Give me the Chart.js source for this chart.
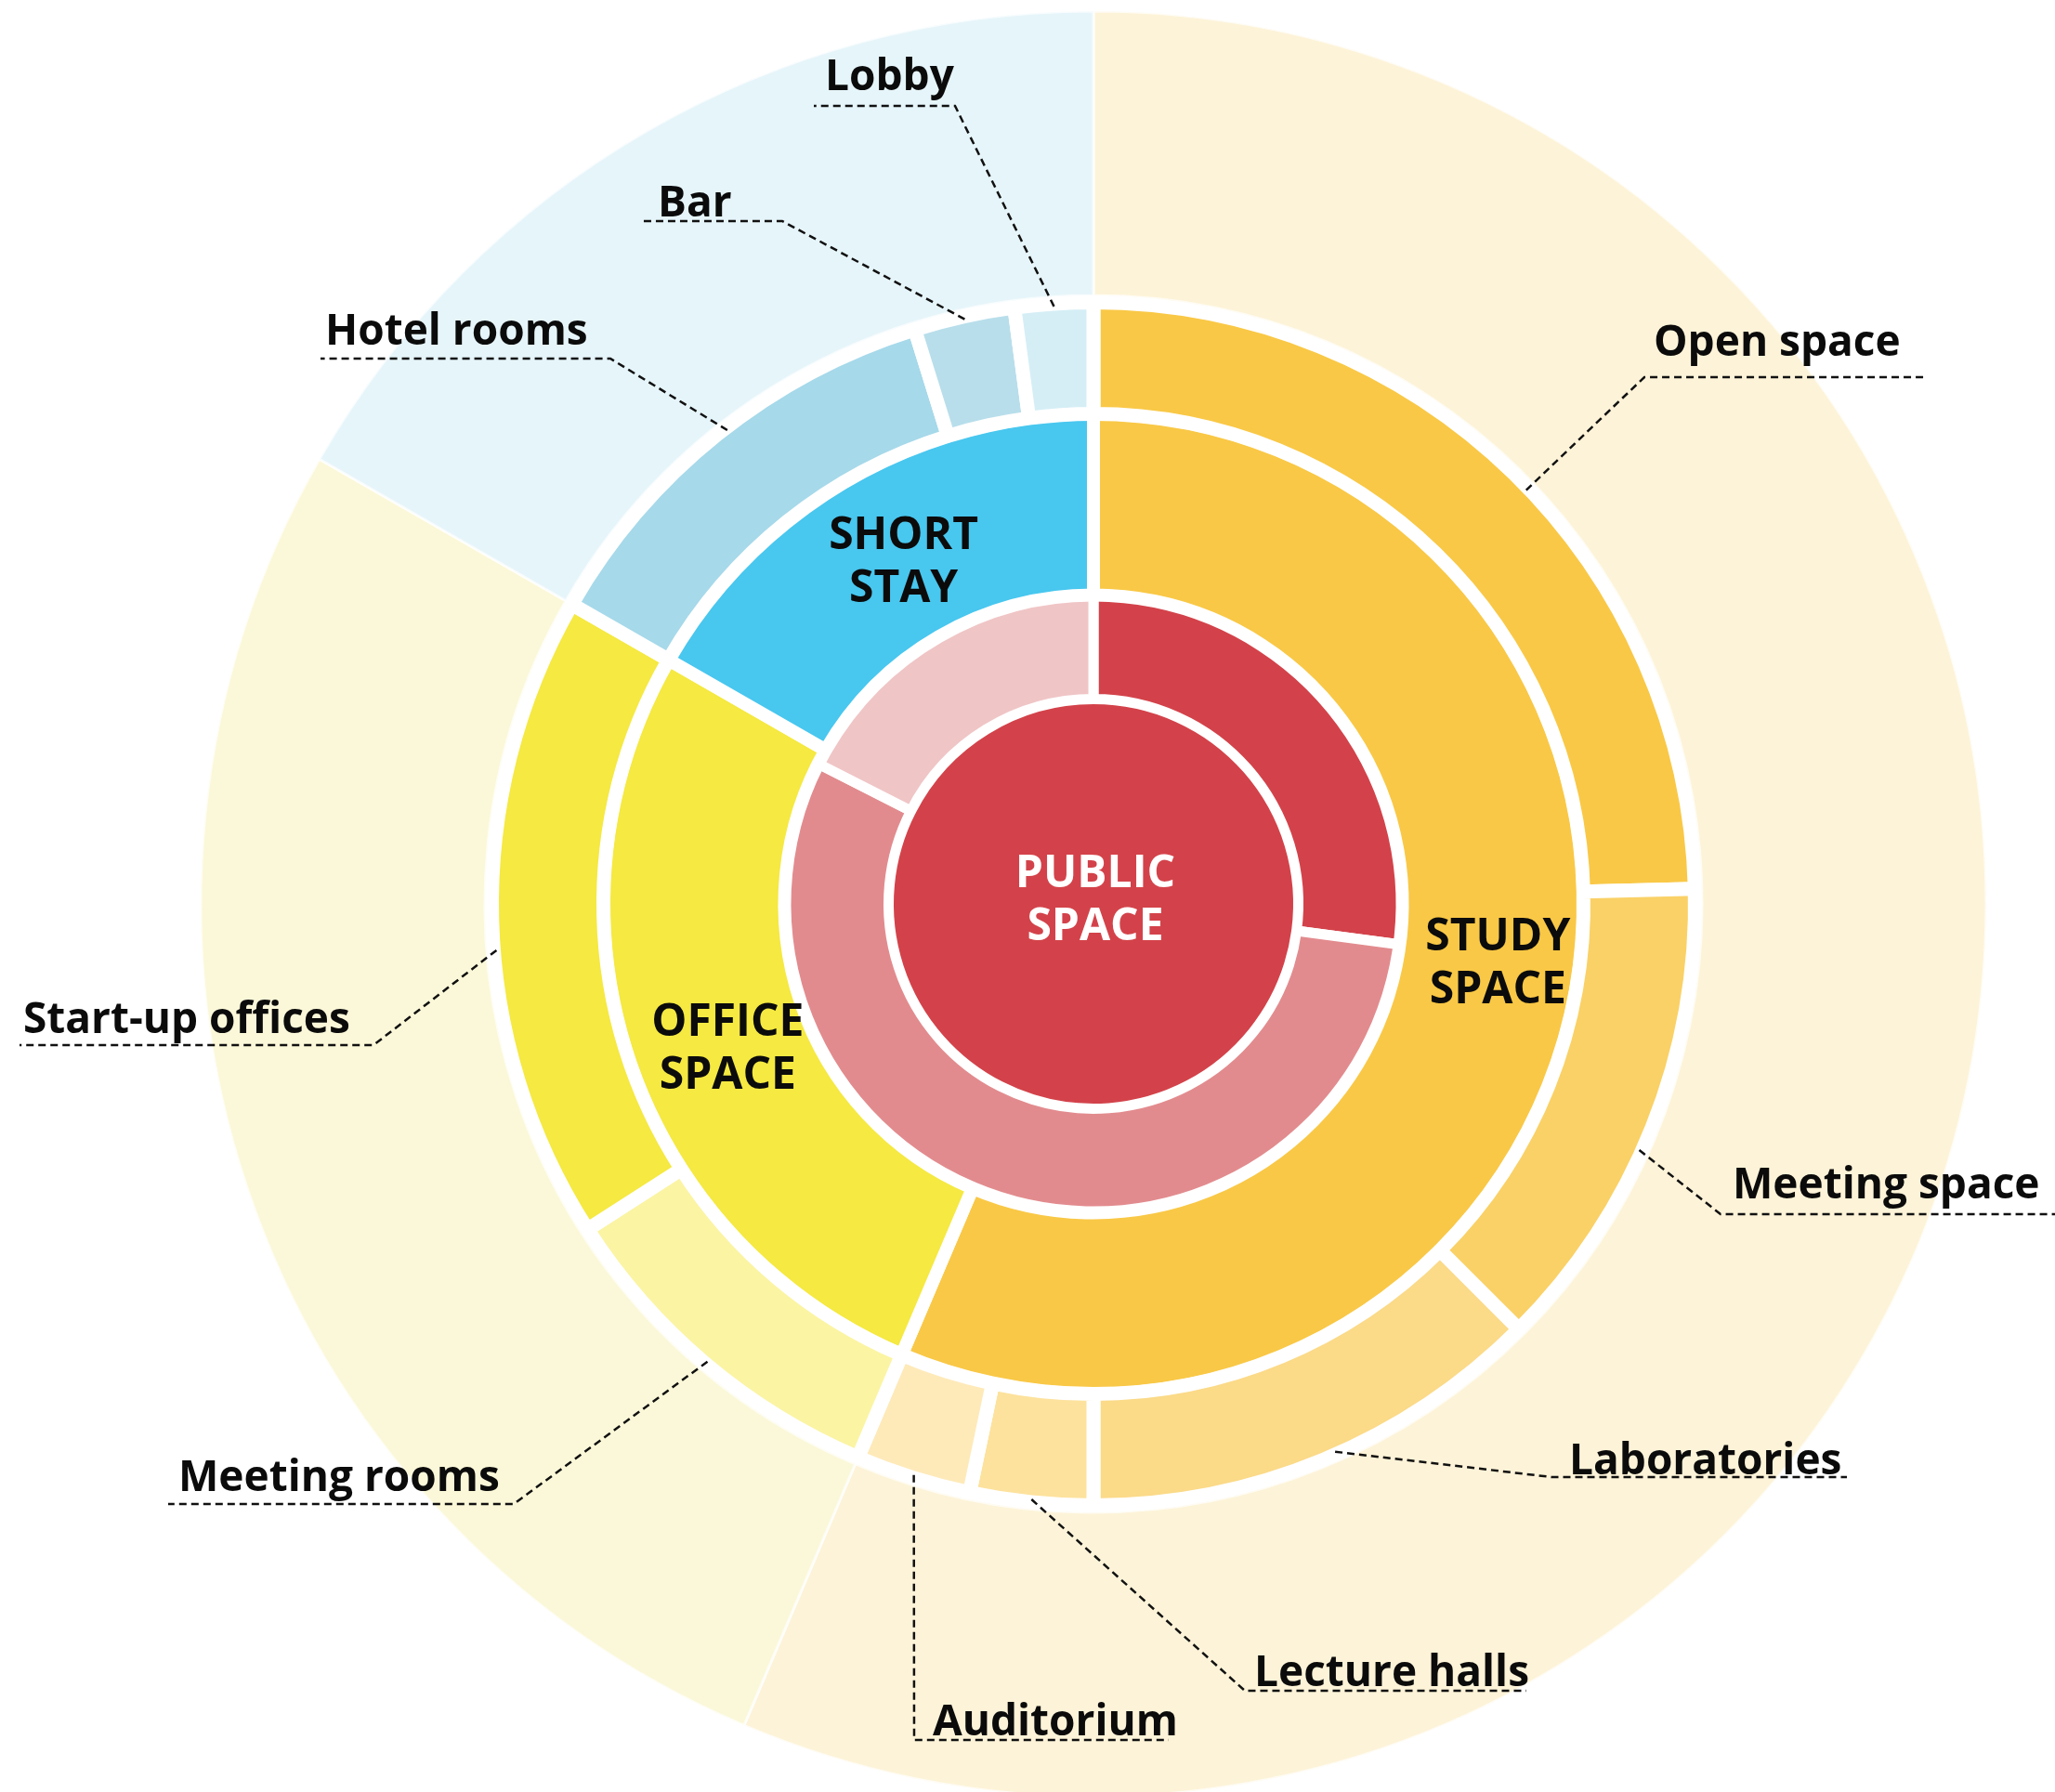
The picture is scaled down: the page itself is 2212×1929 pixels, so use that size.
<!DOCTYPE html>
<html>
<head>
<meta charset="utf-8">
<title>Space programme</title>
<script src="https://cdn.jsdelivr.net/npm/chart.js@4.4.1/dist/chart.umd.min.js"></script>
<style>
  html, body { margin: 0; padding: 0; background: #fff; overflow: hidden; }
  canvas { display: block; }
</style>
</head>
<body>
<canvas id="spaceChart" width="2212" height="1929"></canvas>
<script>
// main programme, share of floor area (%), clockwise from the top
const categories = ['Study space', 'Office space', 'Short stay'];
const categoryShares = [56.4, 26.9, 16.7];

// sub programme, clockwise from the top
const subLabels = ['Open space', 'Meeting space', 'Laboratories', 'Lecture halls', 'Auditorium',
  'Meeting rooms', 'Start-up offices', 'Hotel rooms', 'Bar', 'Lobby'];
const subShares = [24.6, 12.9, 12.5, 3.3, 3.1, 9.5, 17.4, 11.9, 2.7, 2.1];

// public space ring around the core
const publicParts = ['Public A', 'Public B', 'Public C'];
const publicShares = [27.1, 55.4, 17.5];
const coreShare = [100];

// colours
const catColors = ['#f9c846', '#f5e942', '#48c7ef'];
const outerColors = ['#fdf3d8', '#fbf8d9', '#e6f5fa'];
const subColors = ['#f9c846', '#fad166', '#fbda88', '#fde29d', '#feeab9',
  '#fbf4a3', '#f5e942', '#a6d9ea', '#b8deeb', '#d5eef6'];
const publicColors = ['#d3424a', '#e28b8e', '#f0c5c6'];
const coreColor = '#d3424a';

// text inside the rings
const catText = [['STUDY', 'SPACE'], ['OFFICE', 'SPACE'], ['SHORT', 'STAY']];
const catNudge = [[14, -25], [14, 16], [11, 1]];
const coreText = ['PUBLIC', 'SPACE'];

// callouts: text position, underline, which end the leader joins, angle tweak (deg)
const callouts = {
  'Lobby':            { tx: 888,  ty: 97,   ly: 114,  x0: 876,  x1: 1028, elbow: 'right', turn: 0 },
  'Bar':              { tx: 708,  ty: 233,  ly: 238,  x0: 690,  x1: 842,  elbow: 'right', turn: 0 },
  'Hotel rooms':      { tx: 350,  ty: 371,  ly: 386,  x0: 345,  x1: 657,  elbow: 'right', turn: 1 },
  'Open space':       { tx: 1780, ty: 383,  ly: 406,  x0: 1770, x1: 2074, elbow: 'left',  turn: 2 },
  'Start-up offices': { tx: 25,   ty: 1112, ly: 1125, x0: 21,   x1: 402,  elbow: 'right', turn: -3 },
  'Meeting space':    { tx: 1865, ty: 1290, ly: 1307, x0: 1852, x1: 2212, elbow: 'left',  turn: 2.5 },
  'Meeting rooms':    { tx: 192,  ty: 1605, ly: 1619, x0: 181,  x1: 553,  elbow: 'right', turn: 0 },
  'Laboratories':     { tx: 1689, ty: 1587, ly: 1590, x0: 1670, x1: 1988, elbow: 'left',  turn: -1.3 },
  'Lecture halls':    { tx: 1350, ty: 1815, ly: 1820, x0: 1340, x1: 1643, elbow: 'left',  turn: 0 },
  'Auditorium':       { tx: 1004, ty: 1868, ly: 1873, x0: 984,  x1: 1258, elbow: 'left',  turn: 0 }
};

const FONT = '"Open Sans", "DejaVu Sans", sans-serif';

const labelPlugin = {
  id: 'spaceLabels',
  afterDatasetsDraw(chart) {
    const ctx = chart.ctx;
    ctx.save();

    // category names in the main ring
    const catArcs = chart.getDatasetMeta(3).data;
    ctx.font = '700 48px ' + FONT;
    ctx.textAlign = 'center';
    ctx.textBaseline = 'alphabetic';
    ctx.fillStyle = '#0b0b0b';
    catArcs.forEach((arc, i) => {
      const p = arc.getCenterPoint();
      const cx = p.x + catNudge[i][0];
      const cy = p.y + catNudge[i][1];
      ctx.fillText(catText[i][0], cx, cy - 28 + 17);
      ctx.fillText(catText[i][1], cx, cy + 29 + 17);
    });

    // core
    const core = chart.getDatasetMeta(5).data[0];
    ctx.fillStyle = '#ffffff';
    ctx.fillText(coreText[0], core.x + 2, core.y - 35 + 17);
    ctx.fillText(coreText[1], core.x + 2, core.y + 22 + 17);

    // callouts with dashed leaders
    const subArcs = chart.getDatasetMeta(2).data;
    ctx.font = '700 46px ' + FONT;
    ctx.textAlign = 'left';
    subLabels.forEach((name, i) => {
      const c = callouts[name];
      const arc = subArcs[i];
      const a = (arc.startAngle + arc.endAngle) / 2 + c.turn * Math.PI / 180;
      const r = arc.outerRadius - 3;
      const ax = arc.x + Math.cos(a) * r;
      const ay = arc.y + Math.sin(a) * r;
      const ex = c.elbow === 'left' ? c.x0 : c.x1;
      const fx = c.elbow === 'left' ? c.x1 : c.x0;

      ctx.strokeStyle = '#111';
      ctx.lineWidth = 2.5;
      ctx.setLineDash([8, 5]);
      ctx.beginPath();
      ctx.moveTo(ax, ay);
      ctx.lineTo(ex, c.ly);
      ctx.lineTo(fx, c.ly);
      ctx.stroke();

      ctx.setLineDash([]);
      ctx.fillStyle = '#0b0b0b';
      ctx.fillText(name, c.tx, c.ty);
    });

    ctx.restore();
  }
};

new Chart(document.getElementById('spaceChart').getContext('2d'), {
  type: 'doughnut',
  data: {
    labels: subLabels,
    datasets: [
      { label: 'Programme (outer)', data: categoryShares, backgroundColor: outerColors,
        borderColor: 'rgba(255,255,255,0.7)', borderWidth: 3, weight: 306 },
      { label: 'gap', data: coreShare, backgroundColor: 'rgba(0,0,0,0)', borderWidth: 0, weight: 7.5 },
      { label: 'Sub programme', data: subShares, backgroundColor: subColors,
        borderColor: '#ffffff', borderWidth: 15, weight: 120 },
      { label: 'Programme', data: categoryShares, backgroundColor: catColors,
        borderColor: '#ffffff', borderWidth: 14, weight: 195 },
      { label: 'Public space', data: publicShares, backgroundColor: publicColors,
        borderColor: '#ffffff', borderWidth: 11, weight: 112 },
      // the white ring round the core comes from the public ring's border
      { label: 'Core', data: coreShare, backgroundColor: [coreColor],
        borderWidth: 0, weight: 220.5 }
    ]
  },
  options: {
    responsive: false,
    maintainAspectRatio: false,
    animation: false,
    cutout: 0,
    radius: 961,
    clip: false,
    layout: { padding: { left: 142, right: 0, top: 17, bottom: 0 } },
    plugins: {
      legend: { display: false },
      tooltip: { enabled: false }
    }
  },
  plugins: [labelPlugin]
});
</script>
</body>
</html>
